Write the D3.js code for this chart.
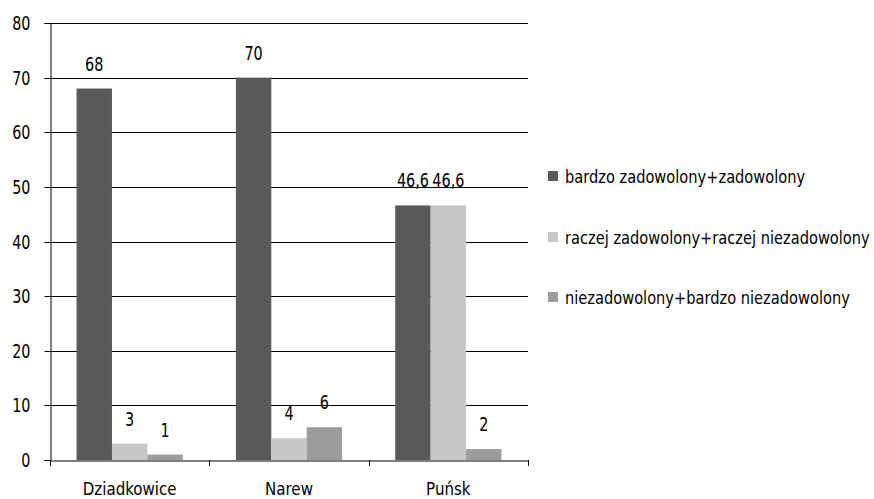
<!DOCTYPE html>
<html><head><meta charset="utf-8">
<script src="https://cdn.jsdelivr.net/npm/d3@7"></script>
<style>body{margin:0;background:#fff}svg{display:block}text{font-family:"DejaVu Sans Condensed","Liberation Sans Narrow",sans-serif;fill:#000}</style>
</head><body><svg id="c" width="874" height="499"></svg>
<script>
const categories = ["Dziadkowice", "Narew", "Puńsk"];
const seriesNames = ["bardzo zadowolony+zadowolony", "raczej zadowolony+raczej niezadowolony", "niezadowolony+bardzo niezadowolony"];
const seriesA = [68, 70, 46.6];
const seriesB = [3, 4, 46.6];
const seriesC = [1, 6, 2];
const yTicks = [0, 10, 20, 30, 40, 50, 60, 70, 80];
const colors = ["#595959", "#c6c6c6", "#9c9c9c"];
const seriesValues = [seriesA, seriesB, seriesC];

const FF = "DejaVu Sans Condensed, Liberation Sans Narrow, sans-serif";
const svg = d3.select("#c");
const pLeft = 50, pRight = 528, pTop = 23, pBottom = 460;
const x = d3.scaleBand().domain(categories).range([pLeft, pRight]).paddingInner(0).paddingOuter(0);
const y = d3.scaleLinear().domain([0, 80]).range([pBottom, pTop]);
const x1 = d3.scaleBand().domain(d3.range(3)).range([0, x.bandwidth()]).paddingInner(0).paddingOuter(0.75);

// gridlines
svg.append("g").selectAll("line").data(yTicks.filter(d => d > 0)).join("line")
  .attr("x1", pLeft).attr("x2", pRight).attr("y1", d => Math.round(y(d)) + 0.5).attr("y2", d => Math.round(y(d)) + 0.5)
  .attr("stroke", "#000").attr("stroke-width", 1);

// squeezed text helper
function label(px, py, str, size, sx, anchor) {
  svg.append("text").attr("transform", `translate(${px},${py}) scale(${sx},1)`)
    .attr("text-anchor", anchor).attr("font-size", size).text(str);
}

// bars
const fmt = v => String(v).replace(".", ",");
categories.forEach((c, i) => {
  seriesValues.forEach((s, j) => {
    const bx = x(c) + x1(j);
    svg.append("rect").attr("x", bx).attr("y", y(s[i])).attr("width", x1.bandwidth()).attr("height", y(0) - y(s[i]))
      .attr("fill", colors[j]);
    label(bx + x1.bandwidth() / 2, y(s[i]) - 18, fmt(s[i]), 20, 0.8, "middle");
  });
});

// y axis
const ySx = 0.84;
const yAxis = d3.axisLeft(y).tickValues(yTicks).tickSize(6).tickPadding(14).tickFormat(d3.format("d"));
const gy = svg.append("g").attr("transform", `translate(${pLeft + 0.5},0)`).call(yAxis);
gy.select(".domain").attr("stroke", "#000");
gy.selectAll(".tick line").attr("stroke", "#000");
gy.selectAll(".tick").attr("transform", d => `translate(0,${Math.round(y(d)) + 0.5})`);
gy.selectAll("text").attr("font-size", 19).attr("font-family", FF).attr("fill", "#000")
  .attr("x", -20 / ySx).attr("transform", `scale(${ySx},1)`);

// x axis
const xSx = 0.93;
const gx = svg.append("g").attr("transform", `translate(0,${pBottom + 0.5})`)
  .call(d3.axisBottom(x).tickSize(0).tickPadding(21.5));
gx.select(".domain").attr("stroke", "#000");
gx.selectAll("text").attr("font-size", 18).attr("font-family", FF).attr("fill", "#000")
  .attr("transform", `scale(${xSx},1)`);
svg.append("g").selectAll("line").data([...categories.map(c => x(c)), pRight]).join("line")
  .attr("x1", d => Math.round(d) + 0.5).attr("x2", d => Math.round(d) + 0.5).attr("y1", pBottom).attr("y2", pBottom + 6).attr("stroke", "#000");

// legend
const legY = [176, 237, 297];
seriesNames.forEach((n, j) => {
  svg.append("rect").attr("x", 548).attr("y", legY[j] - 5).attr("width", 10).attr("height", 10).attr("fill", colors[j]);
  label(565, legY[j] + 7, n, 17.5, 0.93, "start");
});
</script></body></html>
